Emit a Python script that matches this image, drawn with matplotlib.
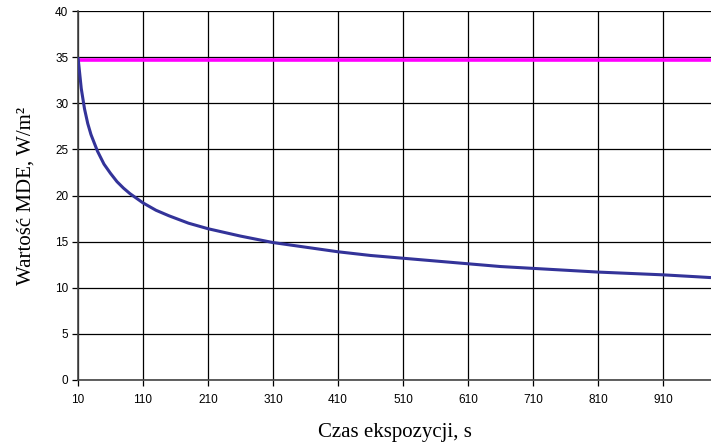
import matplotlib
matplotlib.use("Agg")
import matplotlib.pyplot as plt

# Data
czas = [10, 15, 20, 25, 30, 40, 50, 60, 70, 80, 90, 110, 130, 150, 180, 210,
        260, 310, 360, 410, 460, 510, 560, 610, 660, 710, 760, 810, 860, 910, 960, 984]
mde = [35.0, 31.6, 29.4, 27.8, 26.6, 24.8, 23.4, 22.4, 21.5, 20.8, 20.2, 19.2,
       18.4, 17.8, 17.0, 16.4, 15.6, 14.9, 14.4, 13.9, 13.5, 13.2, 12.9, 12.6,
       12.3, 12.1, 11.9, 11.7, 11.55, 11.4, 11.2, 11.1]
limit_x = [10, 984]
limit_y = [34.7, 34.7]
xticks = [10, 110, 210, 310, 410, 510, 610, 710, 810, 910]
yticks = [0, 5, 10, 15, 20, 25, 30, 35, 40]

fig = plt.figure(figsize=(7.11, 4.43), dpi=100)
ax = fig.add_axes([78/711, 63/443, 633/711, 369/443])

ax.plot(limit_x, limit_y, color="#FF00FF", lw=2.6, zorder=3)
ax.plot(czas, mde, color="#333399", lw=2.2, zorder=4, solid_capstyle="butt")

ax.set_xlim(10, 984)
ax.set_ylim(0, 40)
ax.set_xticks(xticks)
ax.set_yticks(yticks)
ax.grid(True, color="black", lw=0.9)
ax.set_axisbelow(True)
for s in ["top", "right"]:
    ax.spines[s].set_visible(False)
for s in ["left", "bottom"]:
    ax.spines[s].set_color("#444444")
    ax.spines[s].set_linewidth(1.2)
ax.tick_params(direction="out", length=4, width=0.9, labelsize=8.5,
               labelfontfamily="Liberation Sans", pad=3)
for lbl in ax.get_xticklabels():
    lbl.set_y(-0.012)

ax.set_xlabel("Czas ekspozycji, s", family="Liberation Serif", fontsize=15, labelpad=12)
ax.set_ylabel("Wartość MDE, W/m²", family="Liberation Serif", fontsize=15, labelpad=14)

fig.savefig("out.png", dpi=100)
